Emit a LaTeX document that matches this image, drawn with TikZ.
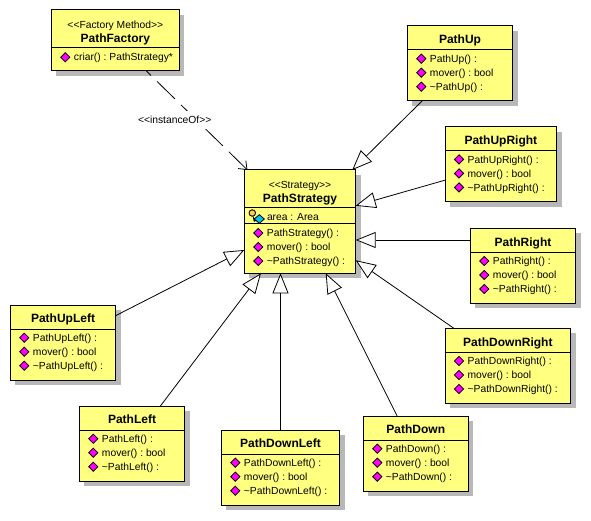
\documentclass[tikz,border=0pt]{standalone}
\usepackage{fontspec}
\setmainfont{Liberation Sans}
\usetikzlibrary{arrows.meta, positioning, shadows, shapes.geometric}
\definecolor{classfill}{HTML}{FFFF80}
\definecolor{shadowfill}{HTML}{B8B8B8}
\definecolor{keyblue}{HTML}{00C0F0}
\definecolor{opfill}{HTML}{FF00FF}
\tikzset{
    classbox/.style={draw, fill=classfill, line width=1pt, inner sep=0pt, outer sep=0pt, anchor=north west,
        drop shadow={shadow xshift=5pt, shadow yshift=-5pt, fill=shadowfill, opacity=1, draw=none}},
    nametext/.style={inner sep=0pt, font=\fontsize{12}{14}\selectfont\bfseries},
    optext/.style={inner sep=0pt, anchor=west, text height=10pt, text depth=2.6pt, font=\fontsize{10.3}{12}\selectfont},
    opicon/.style={diamond, draw=black, fill=opfill, line width=.8pt, inner sep=0pt, minimum width=9.5pt, minimum height=9.5pt},
    generalize/.style={line width=.8pt, -{Triangle[open, length=20pt, width=16pt, fill=white]}},
    instance/.style={line width=.8pt, dash pattern=on 25pt off 8.5pt, dash phase=18.6pt, -{Straight Barb[length=7pt, width=11pt]}}
}
\newcommand{\stereo}[1]{<{}<#1>{}>}
\newcommand{\oprows}[3]{%
    \foreach \op [count=\i] in {#3} {
        \node[opicon] (#1ic\i) at ([xshift=14pt, yshift={-(#2+14*(\i-1))*1pt}]#1.north west) {};
        \node[optext, right=3.3pt of #1ic\i] (#1op\i) {\op};
    }
}
\newcommand{\pathclass}[6]{%
    \node[classbox, minimum width=#4pt, minimum height=75pt] (#1) at (#2,#3) {};
    \node[nametext, below=9pt of #1.north] (#1name) {#5};
    \draw[line width=1pt] ([yshift=-24pt]#1.north west) -- ([yshift=-24pt]#1.north east);
    \oprows{#1}{32.7}{#6()\ :, mover()\ :\ bool, \textasciitilde #6()\ :}
}
\begin{document}
\begin{tikzpicture}[x=1pt, y=-1pt]
    \useasboundingbox (0,0) rectangle (591,521);
    \node[classbox, minimum width=128pt, minimum height=61pt] (fact) at (51.3,10) {};
    \node[optext, anchor=center, below=8pt of fact.north] (factst) {\stereo{Factory Method}};
    \node[nametext, below=23.5pt of fact.north] (factname) {PathFactory};
    \draw[line width=1pt] ([yshift=-38pt]fact.north west) -- ([yshift=-38pt]fact.north east);
    \oprows{fact}{47.3}{criar()\ :\ PathStrategy*}
    \node[classbox, minimum width=111.4pt, minimum height=103.3pt] (strat) at (244.3,170) {};
    \node[optext, anchor=center, below=8pt of strat.north] (stratst) {\stereo{Strategy}};
    \node[nametext, below=23.5pt of strat.north] (stratname) {PathStrategy};
    \draw[line width=1pt] ([yshift=-38pt]strat.north west) -- ([yshift=-38pt]strat.north east);
    \draw[line width=1pt] ([yshift=-54pt]strat.north west) -- ([yshift=-54pt]strat.north east);
    \node[optext] (area) at ([xshift=22.5pt, yshift=-47.3pt]strat.north west) {area : Area};
    \node[circle, draw, fill=classfill!60!orange, line width=.9pt, minimum size=6.5pt, inner sep=0pt] (keyring) at ([xshift=8pt, yshift=-43pt]strat.north west) {};
    \draw[line width=1.1pt] (keyring) -- ++(2,8) -- ++(2.5,-1);
    \node[diamond, draw, fill=keyblue, line width=.8pt, minimum width=10.5pt, minimum height=9pt, inner sep=0pt] (areaic) at ([xshift=15pt, yshift=-49pt]strat.north west) {};
    \oprows{strat}{63}{PathStrategy()\ :, mover()\ :\ bool, \textasciitilde PathStrategy()\ :}
    \pathclass{up}{407.3}{26}{105.4}{PathUp}{PathUp}
    \pathclass{upr}{445}{126.7}{111.7}{PathUpRight}{PathUpRight}
    \pathclass{rgt}{470.3}{228.3}{105.4}{PathRight}{PathRight}
    \pathclass{dnr}{445}{328.3}{125.7}{PathDownRight}{PathDownRight}
    \pathclass{dn}{363.3}{416}{105}{PathDown}{PathDown}
    \pathclass{dnl}{221.3}{430}{118.4}{PathDownLeft}{PathDownLeft}
    \pathclass{lft}{79.3}{406}{105.4}{PathLeft}{PathLeft}
    \pathclass{upl}{10.3}{305}{105.4}{PathUpLeft}{PathUpLeft}
    \foreach \cls in {up, upr, dnr, dn, lft, upl} {
        \draw[generalize] (\cls) -- (strat);
    }
    \coordinate (stratr) at (strat.east |- 0,240);
    \draw[generalize] (rgt.west |- stratr) -- (stratr);
    \draw[generalize] (dnl.north) -- (dnl.north |- strat.south);
    \draw[instance] (fact) -- (strat);
    \node[fill=white, inner xsep=1.5pt, inner ysep=0pt, minimum height=18pt, font=\fontsize{10.3}{12}\selectfont] (inst) at (174.7,120) {\stereo{instanceOf}};
\end{tikzpicture}
\end{document}
